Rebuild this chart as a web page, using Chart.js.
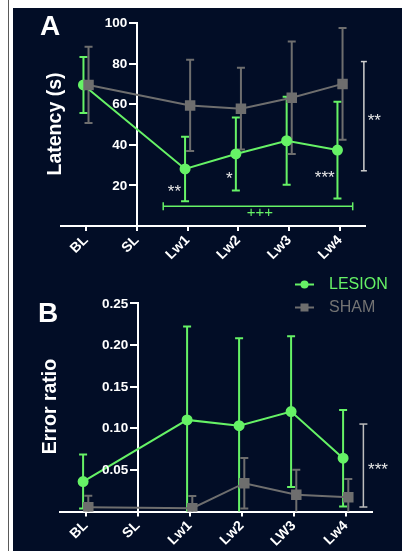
<!DOCTYPE html>
<html>
<head>
<meta charset="utf-8">
<title>Latency / Error ratio</title>
<script src="https://cdn.jsdelivr.net/npm/chart.js@4.4.1/dist/chart.umd.min.js"></script>
<style>
  html, body { margin: 0; padding: 0; background: #fff; }
  body { position: relative; width: 402px; height: 551px; overflow: hidden; }
  #rule { position: absolute; left: 8px; top: 0; width: 1px; height: 551px; background: #5a5a5a; }
  #panel { position: absolute; left: 13px; top: 8px; right: 0; bottom: 0; background: #020d26; }
  canvas { position: absolute; left: 0; }
  #chartA { top: 0; }
  #chartB { top: 262px; }
</style>
</head>
<body>
<div id="rule"></div>
<div id="panel"></div>
<canvas id="chartA" width="402" height="262"></canvas>
<canvas id="chartB" width="402" height="289"></canvas>
<script>
// Categorias del eje X (el panel B escribe "LW3")
const labelsA = ['BL', 'SL', 'Lw1', 'Lw2', 'Lw3', 'Lw4'];
const labelsB = ['BL', 'SL', 'Lw1', 'Lw2', 'LW3', 'Lw4'];

// Panel A: latencia (s), media y desviacion
const lesionLatency   = [69.5, null, 28.1, 35.5, 42.0, 37.4];
const lesionLatencySd = [13.8, null, 15.9, 18.0, 21.7, 23.8];
const shamLatency     = [69.5, null, 59.4, 57.8, 63.2, 70.0];
const shamLatencySd   = [18.8, null, 22.5, 20.1, 27.7, 27.5];

// Panel B: error ratio, media y desviacion
const lesionError   = [0.036, null, 0.110, 0.103, 0.120, 0.064];
const lesionErrorSd = [0.0325, null, 0.112, 0.105, 0.0905, 0.058];
const shamError     = [0.005, null, 0.004, 0.034, 0.020, 0.017];
const shamErrorSd   = [0.014, null, 0.0145, 0.0303, 0.030, 0.022];

// Marcas del eje Y
const ticksA = [20, 40, 60, 80, 100];
const ticksB = [0.05, 0.10, 0.15, 0.20, 0.25];

const GREEN = '#66f266';
const GRAY = '#6e6e6e';
const WHITE = '#ffffff';
const FONT = '"Liberation Sans", Arial, sans-serif';

Chart.defaults.font.family = FONT;

// puntos {x, y, sd}, sin los huecos (SL)
function points(values, sds, shift) {
    return values.map((v, i) => ({ x: i + shift, y: v, sd: sds[i] }))
                 .filter(p => p.y !== null);
}

// Barras de error: se dibujan debajo de lineas y puntos
const errorBars = {
    id: 'errorBars',
    beforeDatasetsDraw(chart) {
        const { ctx } = chart;
        const y = chart.scales.y;
        const metas = chart.getSortedVisibleDatasetMetas().slice().reverse();
        metas.forEach(meta => {
            const ds = chart.data.datasets[meta.index];
            ctx.save();
            ctx.strokeStyle = ds.borderColor;
            ctx.lineWidth = 2;
            meta.data.forEach((pt, j) => {
                const raw = ds.data[j];
                const hi = y.getPixelForValue(raw.y + raw.sd);
                const loVal = raw.y - raw.sd;
                const lo = y.getPixelForValue(Math.max(loVal, y.min));
                ctx.beginPath();
                ctx.moveTo(pt.x, hi); ctx.lineTo(pt.x, lo);
                ctx.moveTo(pt.x - 4, hi); ctx.lineTo(pt.x + 4, hi);
                if (loVal > y.min) { ctx.moveTo(pt.x - 4, lo); ctx.lineTo(pt.x + 4, lo); }
                ctx.stroke();
            });
            ctx.restore();
        });
    }
};

function text(ctx, str, x, y, font, color, align) {
    ctx.save();
    ctx.font = font;
    ctx.fillStyle = color;
    ctx.textAlign = align || 'center';
    ctx.textBaseline = 'middle';
    ctx.fillText(str, x, y);
    ctx.restore();
}

// Etiquetas del eje Y junto al eje, que cruza en SL
const yLabels = {
    id: 'yLabels',
    afterDraw(chart, args, opts) {
        const { ctx, scales: { x, y } } = chart;
        const x0 = x.getPixelForValue(1) - 9.5;
        y.ticks.forEach(t => {
            if (t.value === 0) return;
            text(ctx, opts.fmt(t.value), x0, y.getPixelForValue(t.value) + 0.5,
                 'bold 13.5px ' + FONT, WHITE, 'right');
        });
    }
};

function yTitle(ctx, str, x, y) {
    ctx.save();
    ctx.translate(x, y);
    ctx.rotate(-Math.PI / 2);
    ctx.font = 'bold 19.5px ' + FONT;
    ctx.fillStyle = WHITE;
    ctx.textAlign = 'center';
    ctx.textBaseline = 'alphabetic';
    ctx.fillText(str, 0, 0);
    ctx.restore();
}

function line(ctx, pts, color, width) {
    ctx.save();
    ctx.strokeStyle = color;
    ctx.lineWidth = width;
    ctx.beginPath();
    pts.forEach((p, i) => i ? ctx.lineTo(p[0], p[1]) : ctx.moveTo(p[0], p[1]));
    ctx.stroke();
    ctx.restore();
}

function scalesFor(labels, yMax, yTicks, axisHeight) {
    return {
        x: {
            type: 'linear', min: -0.5, max: 5.5,
            afterBuildTicks: s => { s.ticks = labels.map((l, i) => ({ value: i })); },
            afterFit: s => { s.height = axisHeight; },
            ticks: {
                color: WHITE, font: { size: 14, weight: 'bold' },
                maxRotation: 45, minRotation: 45, autoSkip: false, padding: 1,
                callback: v => labels[v]
            },
            grid: { drawOnChartArea: false, color: WHITE, lineWidth: 2, tickLength: 5 },
            border: { color: WHITE, width: 2 }
        },
        y: {
            position: { x: 1 }, min: 0, max: yMax,
            afterBuildTicks: s => { s.ticks = [0].concat(yTicks).map(v => ({ value: v })); },
            ticks: { display: false },
            grid: { drawOnChartArea: false, color: WHITE, lineWidth: 2, tickLength: 7 },
            border: { color: WHITE, width: 2 }
        }
    };
}

function baseOptions(labels, yMax, yTicks, fmt, padding, axisHeight) {
    return {
        responsive: false,
        animation: false,
        layout: { padding },
        elements: { line: { tension: 0 } },
        plugins: {
            legend: { display: false },
            tooltip: { enabled: false },
            yLabels: { fmt }
        },
        scales: scalesFor(labels, yMax, yTicks, axisHeight)
    };
}

// Anotaciones del panel A
const notesA = {
    id: 'notesA',
    afterDraw(chart) {
        const { ctx, scales: { x, y } } = chart;
        const px = v => x.getPixelForValue(v);
        const py = v => y.getPixelForValue(v);
        text(ctx, 'A', 40, 27, 'bold 28px ' + FONT, WHITE, 'left');
        yTitle(ctx, 'Latency (s)', 61, 124);

        const star = '17px ' + FONT;
        text(ctx, '**', px(1.74), py(16.7), star, '#e8e8e8');
        text(ctx, '*', px(2.82), py(23.2), star, '#e8e8e8');
        text(ctx, '***', px(4.70), py(23.6), star, '#e8e8e8');
        text(ctx, '**', px(5.675), py(51.6), star, '#e8e8e8');

        // +++ LESION BL vs Lw
        const gy = py(9.7);
        line(ctx, [[px(1.52), gy], [px(5.25), gy]], GREEN, 1.5);
        line(ctx, [[px(1.52), gy - 4], [px(1.52), gy + 4]], GREEN, 1.5);
        line(ctx, [[px(5.25), gy - 4], [px(5.25), gy + 4]], GREEN, 1.5);
        text(ctx, '+++', px(3.425), py(6.3), '15px ' + FONT, GREEN);

        // ** LESION vs SHAM
        const bx = px(5.47);
        line(ctx, [[bx, py(81)], [bx, py(27.2)]], '#cfcfcf', 1.5);
        line(ctx, [[bx - 3, py(81)], [bx + 3, py(81)]], '#cfcfcf', 1.5);
        line(ctx, [[bx - 3, py(27.2)], [bx + 3, py(27.2)]], '#cfcfcf', 1.5);
    }
};

// Anotaciones y leyenda del panel B
const notesB = {
    id: 'notesB',
    afterDraw(chart) {
        const { ctx, scales: { x, y } } = chart;
        const px = v => x.getPixelForValue(v);
        const py = v => y.getPixelForValue(v);
        text(ctx, 'B', 38, 52, 'bold 28px ' + FONT, WHITE, 'left');
        yTitle(ctx, 'Error ratio', 56, 144.5);

        const bx = px(5.34);
        line(ctx, [[bx, py(0.105)], [bx, py(0.0054)]], '#bdbdbd', 1.5);
        line(ctx, [[bx - 4, py(0.105)], [bx + 4, py(0.105)]], '#bdbdbd', 1.5);
        line(ctx, [[bx - 4, py(0.0054)], [bx + 4, py(0.0054)]], '#bdbdbd', 1.5);
        text(ctx, '***', px(5.62), py(0.0489), '17px ' + FONT, '#e8e8e8');

        // leyenda
        line(ctx, [[295, 22.5], [314, 22.5]], GREEN, 2);
        ctx.save();
        ctx.fillStyle = GREEN;
        ctx.beginPath(); ctx.arc(304.5, 22.5, 4, 0, Math.PI * 2); ctx.fill();
        ctx.restore();
        text(ctx, 'LESION', 329, 22.5, '16px ' + FONT, GREEN, 'left');

        line(ctx, [[295, 45.5], [314, 45.5]], GRAY, 2);
        ctx.save();
        ctx.fillStyle = GRAY;
        ctx.fillRect(300.5, 41.5, 8, 8);
        ctx.restore();
        text(ctx, 'SHAM', 329, 45.5, '16px ' + FONT, '#737373', 'left');
    }
};

function datasets(lesion, lesionSd, sham, shamSd) {
    return [
        {
            label: 'LESION', data: points(lesion, lesionSd, -0.05),
            borderColor: GREEN, backgroundColor: GREEN, borderWidth: 2,
            pointStyle: 'circle', pointRadius: 4.5, order: 1
        },
        {
            label: 'SHAM', data: points(sham, shamSd, 0.05),
            borderColor: GRAY, backgroundColor: GRAY, borderWidth: 2,
            pointStyle: 'rect', pointRadius: 6, order: 0
        }
    ];
}

new Chart(document.getElementById('chartA'), {
    type: 'line',
    data: { datasets: datasets(lesionLatency, lesionLatencySd, shamLatency, shamLatencySd) },
    options: baseOptions(labelsA, 100, ticksA, v => String(v),
        { left: 60.6, right: 36.6, top: 23, bottom: 0 }, 36),
    plugins: [errorBars, yLabels, notesA]
});

new Chart(document.getElementById('chartB'), {
    type: 'line',
    data: { datasets: datasets(lesionError, lesionErrorSd, shamError, shamErrorSd) },
    options: baseOptions(labelsB, 0.25, ticksB, v => v.toFixed(2),
        { left: 59.7, right: 30.3, top: 41.3, bottom: 0 }, 39.5),
    plugins: [errorBars, yLabels, notesB]
});
</script>
</body>
</html>
